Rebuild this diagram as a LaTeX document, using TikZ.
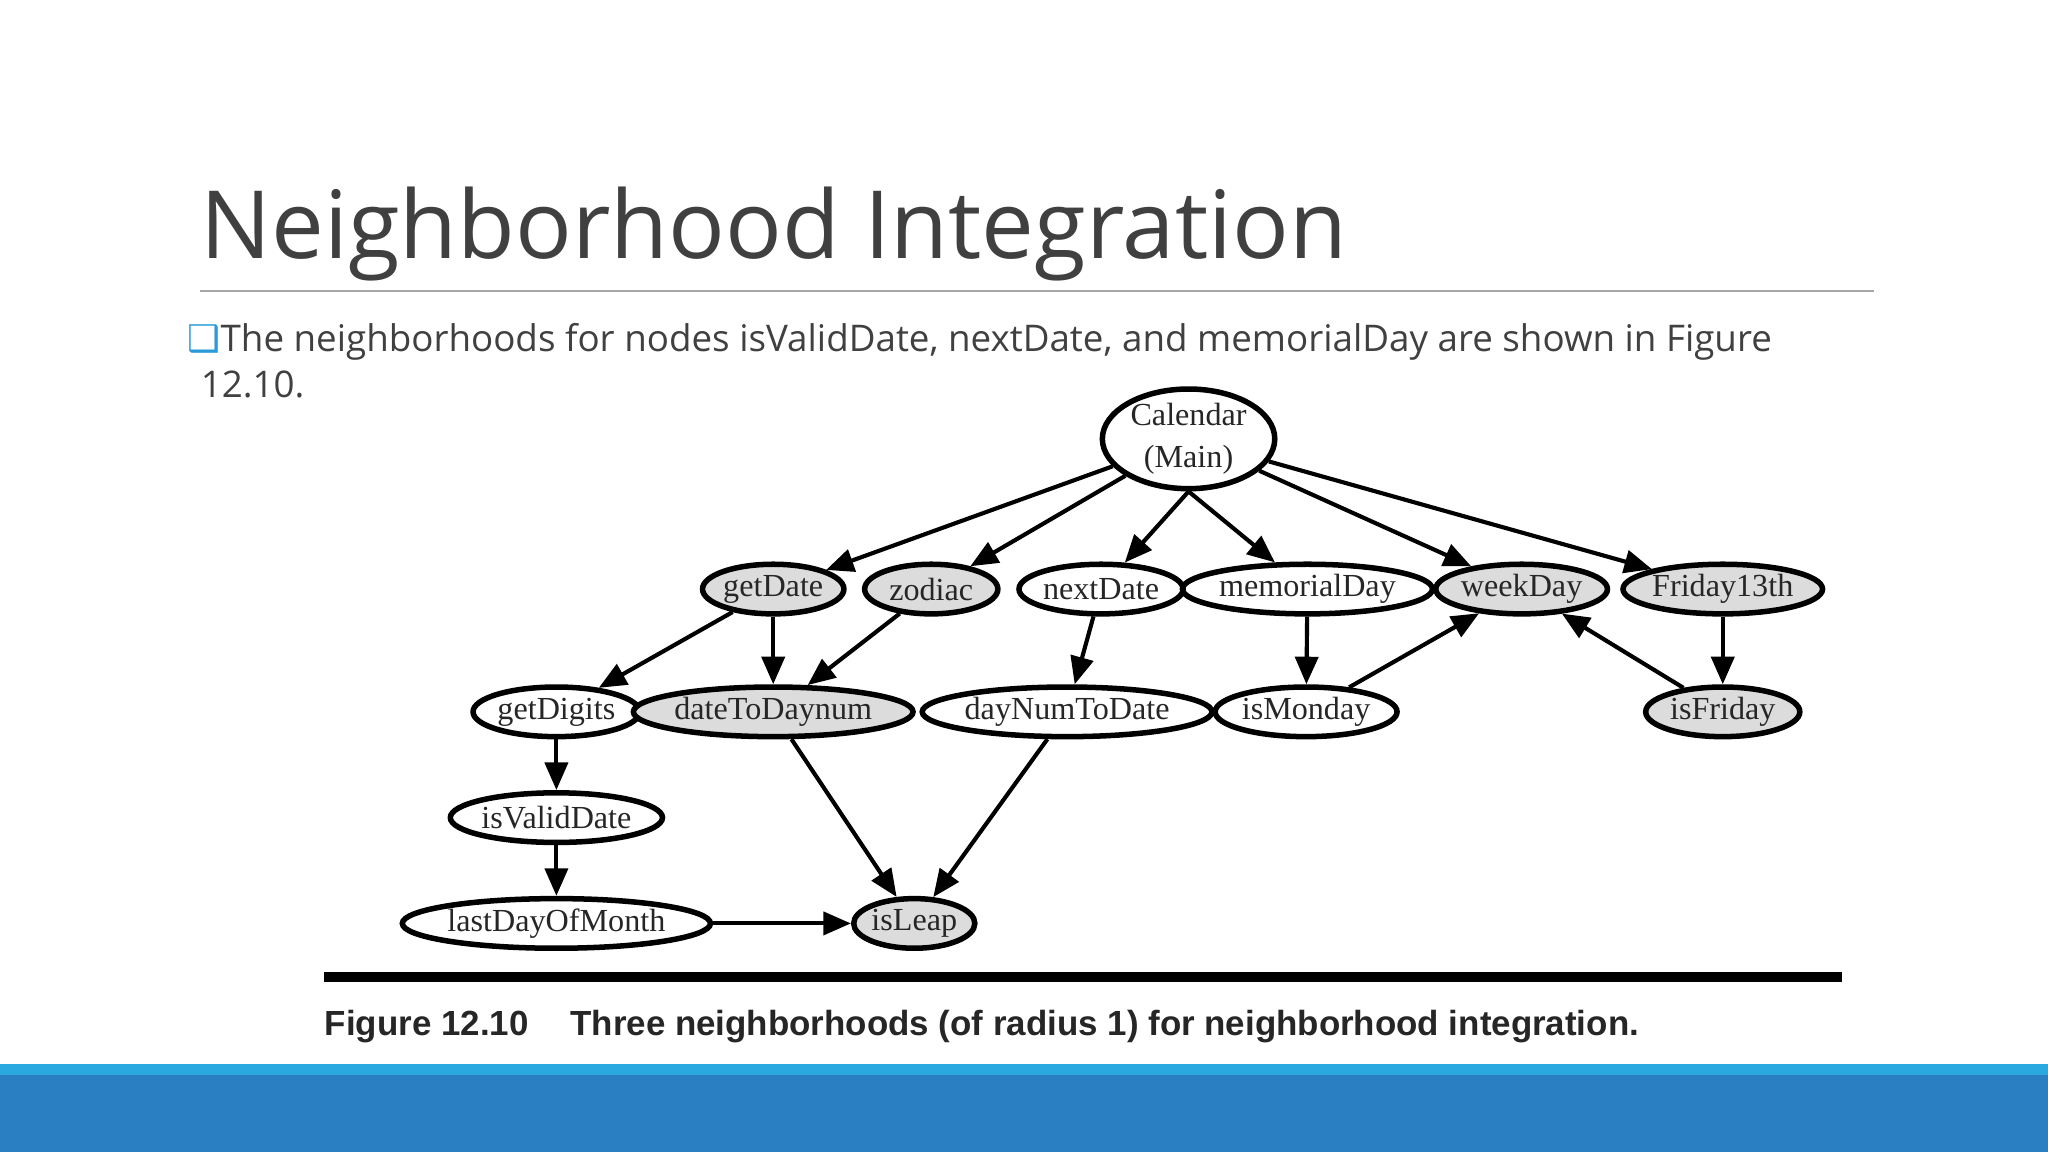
\documentclass[tikz,border=0pt]{standalone}
\usepackage{fontspec}
\setmainfont{Liberation Serif}
\newfontfamily\osans{Open Sans}
\newfontfamily\capfont{Liberation Sans}
\usetikzlibrary{shapes.geometric,arrows.meta}
\definecolor{titlegray}{HTML}{404040}
\definecolor{nodegray}{HTML}{DCDCDC}
\definecolor{lightbar}{HTML}{2AA8E0}
\definecolor{darkbar}{HTML}{2A7FC3}
\definecolor{bulletblue}{HTML}{2A9BD8}
\tikzset{
 nd/.style={ellipse,draw,line width=1.2pt,inner sep=0pt,minimum height=38*0.01cm,font=\fontsize{7pt}{8pt}\selectfont,text=black!85},
 gnd/.style={nd,fill=nodegray},
 edge/.style={-{Triangle[length=6pt,width=5pt]},line width=0.9pt}
}
\begin{document}
\begin{tikzpicture}[x=0.01cm,y=-0.01cm]
\useasboundingbox (0,0) rectangle (1568,882);
\fill[lightbar] (0,815) rectangle (1568,823);
\fill[darkbar] (0,823) rectangle (1568,882);
\node[anchor=base west,inner sep=0,text=titlegray,font=\osans\fontsize{20.5pt}{24pt}\selectfont] (title) at (153,198) {Neighborhood Integration};
\draw[gray!70,line width=0.5pt] (153,223) -- (1435,223);
\node[anchor=base west,inner sep=0,text=titlegray,font=\osans\fontsize{8pt}{10pt}\selectfont] (bul) at (143,269) {\textcolor{bulletblue}{\fontspec{DejaVu Sans}❑}The neighborhoods for nodes isValidDate, nextDate, and memorialDay are shown in Figure};
\node[anchor=base west,inner sep=0,text=titlegray,font=\osans\fontsize{8pt}{10pt}\selectfont] (bul2) at (153,304) {12.10.};

\node[nd,minimum width=132*0.01cm,minimum height=64*0.01cm,align=center,font=\fontsize{7pt}{9pt}\selectfont] (cal) at (910,336) {Calendar\\(Main)};
\node[gnd,minimum width=108*0.01cm] (getDate) at (592,451) {getDate};
\node[gnd,minimum width=102*0.01cm] (zodiac) at (713,451) {zodiac};
\node[nd,minimum width=118*0.01cm] (nextDate) at (843,451) {nextDate};
\node[nd,minimum width=164*0.01cm] (memorialDay) at (1001,451) {memorialDay};
\node[gnd,minimum width=128*0.01cm] (weekDay) at (1165,451) {weekDay};
\node[gnd,minimum width=148*0.01cm] (fri13) at (1319,451) {Friday13th};
\node[nd,minimum width=112*0.01cm] (getDigits) at (426,545) {getDigits};
\node[gnd,minimum width=184*0.01cm] (d2d) at (592,545) {dateToDaynum};
\node[nd,minimum width=208*0.01cm] (dn2d) at (817,545) {dayNumToDate};
\node[nd,minimum width=126*0.01cm] (isMonday) at (1000,545) {isMonday};
\node[gnd,minimum width=118*0.01cm] (isFriday) at (1319,545) {isFriday};
\node[nd,minimum width=146*0.01cm] (isValid) at (426,626) {isValidDate};
\node[nd,minimum width=198*0.01cm] (ldom) at (426,707) {lastDayOfMonth};
\node[gnd,minimum width=86*0.01cm] (isLeap) at (700,707) {isLeap};

\draw[edge] (cal) -- (getDate);
\draw[edge] (cal) -- (zodiac);
\draw[edge] (cal.south) -- (nextDate);
\draw[edge] (cal.south) -- (memorialDay);
\draw[edge] (cal) -- (weekDay);
\draw[edge] (cal) -- (fri13);
\draw[edge] (getDate) -- (getDigits);
\draw[edge] (getDate) -- (d2d);
\draw[edge] (zodiac) -- (d2d);
\draw[edge] (nextDate) -- (dn2d);
\draw[edge] (memorialDay) -- (isMonday);
\draw[edge] (isMonday) -- (weekDay);
\draw[edge] (isFriday) -- (weekDay);
\draw[edge] (fri13) -- (isFriday);
\draw[edge] (getDigits) -- (isValid);
\draw[edge] (isValid) -- (ldom);
\draw[edge] (ldom) -- (isLeap);
\draw[edge] (d2d) -- (isLeap);
\draw[edge] (dn2d) -- (isLeap);

\draw[line width=2pt] (248,748) -- (1410,748);
\node[anchor=base west,inner sep=0,font=\capfont\bfseries\fontsize{7.6pt}{9pt}\selectfont,text=black!85] (cap) at (248,793) {Figure 12.10\hspace{1.2em}Three neighborhoods (of radius 1) for neighborhood integration.};
\end{tikzpicture}
\end{document}
